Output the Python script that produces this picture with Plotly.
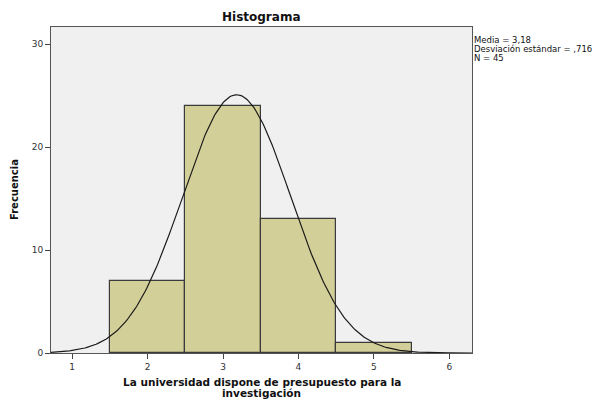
import numpy as np
import plotly.graph_objects as go

# Data
bin_centers = [2, 3, 4, 5]
frequencies = [7, 24, 13, 1]
bin_width = 1
mean_val = 3.18
sd_val = 0.716
n_val = 45
x_ticks = [1, 2, 3, 4, 5, 6]
y_ticks = [0, 10, 20, 30]
stats_lines = ["Media = 3,18", "Desviación estándar = ,716", f"N = {n_val}"]
xlabel_lines = ["La universidad dispone de presupuesto para la", "investigación"]

fig = go.Figure()
fig.add_trace(go.Bar(
    x=bin_centers, y=frequencies, width=bin_width,
    marker=dict(color="#D3CF98", line=dict(color="#3a3a3a", width=1.2)),
    hoverinfo="skip", showlegend=False,
))

xs = np.linspace(0.72, 6.3, 300)
ys = n_val * bin_width / (sd_val * np.sqrt(2 * np.pi)) * np.exp(-0.5 * ((xs - mean_val) / sd_val) ** 2)
fig.add_trace(go.Scatter(x=xs, y=ys, mode="lines", line=dict(color="#1a1a1a", width=1.2),
                         hoverinfo="skip", showlegend=False))

fig.update_layout(
    width=606, height=393,
    margin=dict(l=43, r=142, t=19, b=48),
    paper_bgcolor="white", plot_bgcolor="#F0F0F0",
    bargap=0,
    font=dict(family="DejaVu Sans, Arial, sans-serif", color="#222", size=9),
    xaxis=dict(range=[0.72, 6.3], tickvals=x_ticks, showgrid=False, zeroline=False,
               ticks="outside", ticklen=5, tickcolor="#444", showline=True, linecolor="#555",
               linewidth=1, mirror=True, tickfont=dict(size=9, color="#333")),
    yaxis=dict(range=[0, 31.65], tickvals=y_ticks, showgrid=False, zeroline=False,
               ticks="outside", ticklen=5, tickcolor="#444", showline=True, linecolor="#555",
               linewidth=1, mirror=True, tickfont=dict(size=9, color="#333")),
)

# Title
fig.add_annotation(text="<b>Histograma</b>", xref="paper", yref="paper", x=0.5, y=1.0,
                   yanchor="bottom", xanchor="center", showarrow=False, yshift=1,
                   font=dict(size=12, color="#111"))
# Stats box
for i, line in enumerate(stats_lines):
    fig.add_annotation(text=line, xref="paper", yref="paper", x=1.0, y=0.98,
                       xanchor="left", yanchor="top", xshift=1, yshift=-9 * i,
                       align="left", showarrow=False, borderpad=0,
                       font=dict(size=8.5, color="#111"))
# Y label
fig.add_annotation(text="<b>Frecuencia</b>", xref="paper", yref="paper", x=0, y=0.5,
                   xanchor="center", yanchor="middle", xshift=-37, textangle=-90,
                   showarrow=False, font=dict(size=10, color="#111"))
# X label (two lines, tight spacing)
for i, line in enumerate(xlabel_lines):
    fig.add_annotation(text=f"<b>{line}</b>", xref="paper", yref="paper", x=0.5, y=0,
                       xanchor="center", yanchor="middle", yshift=-29 - 11 * i,
                       showarrow=False, borderpad=0, font=dict(size=10.5, color="#111"))

fig.write_html("out.html")
